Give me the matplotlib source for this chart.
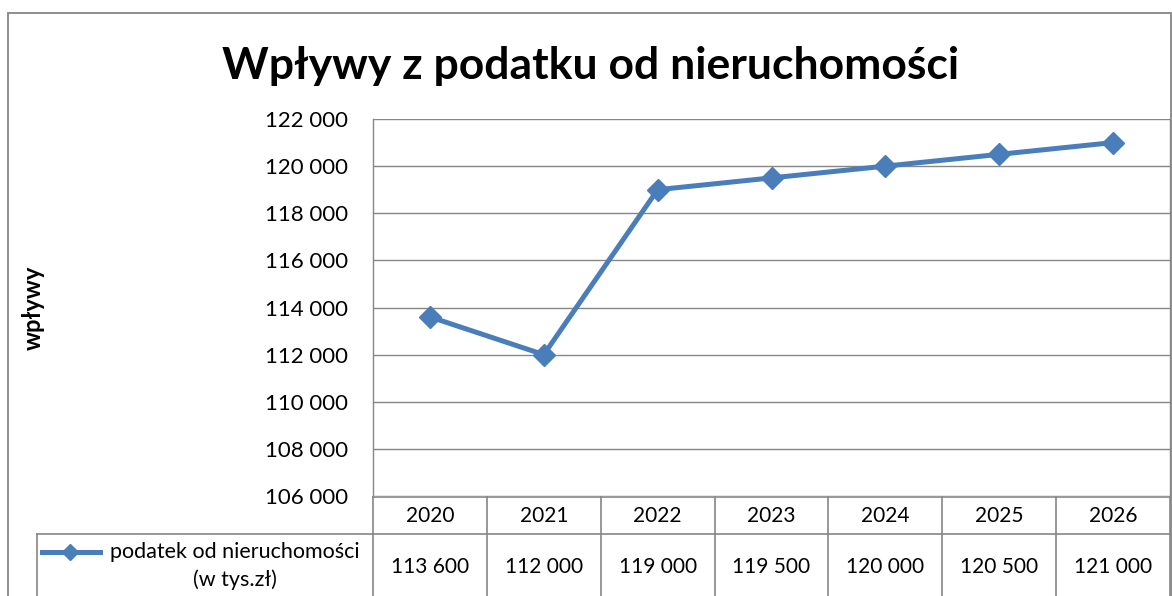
import matplotlib.pyplot as plt
from matplotlib.lines import Line2D
from matplotlib.patches import Rectangle
import matplotlib.transforms as mtransforms

plt.rcParams['font.family'] = ['Lato', 'DejaVu Sans']

# Data
years = ["2020", "2021", "2022", "2023", "2024", "2025", "2026"]
values = [113600, 112000, 119000, 119500, 120000, 120500, 121000]
series_name = "podatek od nieruchomości\n(w tys.zł)"
yticks = [106000, 108000, 110000, 112000, 114000, 116000, 118000, 120000, 122000]

W, H = 1172, 596
line_color = "#4A7EBB"
grid_color = "#868686"

fig = plt.figure(figsize=(W / 100, H / 100), dpi=100)

def fx(px):
    return px / W

def fy(py):
    return 1 - py / H

# plot area in pixel coordinates
left, right, top, bottom = 373, 1170, 119, 496
ax = fig.add_axes([fx(left), fy(bottom), fx(right) - fx(left), fy(top) - fy(bottom)])

x = list(range(len(years)))
ax.plot(x, values, color=line_color, linewidth=3.6, marker="D", markersize=11,
        markerfacecolor=line_color, markeredgecolor=line_color, clip_on=False, zorder=3)

ax.set_xlim(-0.5, len(years) - 0.5)
ax.set_ylim(yticks[0], yticks[-1])
ax.set_yticks(yticks)
ax.set_yticklabels([f"{v:,}".replace(",", " ") for v in yticks], fontsize=16)
ax.tick_params(axis="y", length=0, pad=18)
ax.set_xticks([])
ax.grid(axis="y", color=grid_color, linewidth=1)
for s in ["top", "bottom"]:
    ax.spines[s].set_visible(False)
for s in ["left", "right"]:
    ax.spines[s].set_color(grid_color)
    ax.spines[s].set_linewidth(1)

# outer chart border
fig.patches.append(Rectangle((fx(8), fy(H + 5)), fx(1171) - fx(8), fy(13) - fy(H + 5),
                             transform=fig.transFigure, fill=False,
                             edgecolor=grid_color, linewidth=1.3))

fig.text(fx(591), fy(66), "Wpływy z podatku od nieruchomości", fontsize=32,
         fontweight="bold", ha="center", va="center")
fig.text(fx(33), fy(308), "wpływy", fontsize=17, fontweight="bold",
         rotation=90, ha="center", va="center")

# data table below the plot
trans = mtransforms.blended_transform_factory(ax.transData, fig.transFigure)
hdr_top, hdr_bot, tbl_bot = 497, 534, H + 5
fig.lines.append(Line2D([fx(left), fx(right)], [fy(hdr_top)] * 2, transform=fig.transFigure,
                        color=grid_color, linewidth=1.2))
fig.lines.append(Line2D([fx(37), fx(right)], [fy(hdr_bot)] * 2, transform=fig.transFigure,
                        color=grid_color, linewidth=1.2))
fig.lines.append(Line2D([fx(37), fx(37)], [fy(hdr_bot), fy(tbl_bot)], transform=fig.transFigure,
                        color=grid_color, linewidth=1.2))
for i in range(len(years) + 1):
    fig.lines.append(Line2D([i - 0.5, i - 0.5], [fy(hdr_top), fy(tbl_bot)], transform=trans,
                            color=grid_color, linewidth=1.2))
for i, (yr, v) in enumerate(zip(years, values)):
    fig.text(i, fy(516), yr, transform=trans, ha="center", va="center", fontsize=15)
    fig.text(i, fy(567), f"{v:,}".replace(",", " "), transform=trans,
             ha="center", va="center", fontsize=15)

# legend key inside the table
fig.lines.append(Line2D([fx(42), fx(70), fx(100)], [fy(552)] * 3, transform=fig.transFigure,
                        color=line_color, linewidth=3.6, marker="D", markersize=8,
                        markevery=[1], markerfacecolor=line_color))
fig.text(fx(235), fy(566), series_name, ha="center", va="center", fontsize=15.5,
         linespacing=1.4)

fig.savefig("out.png", dpi=100)
